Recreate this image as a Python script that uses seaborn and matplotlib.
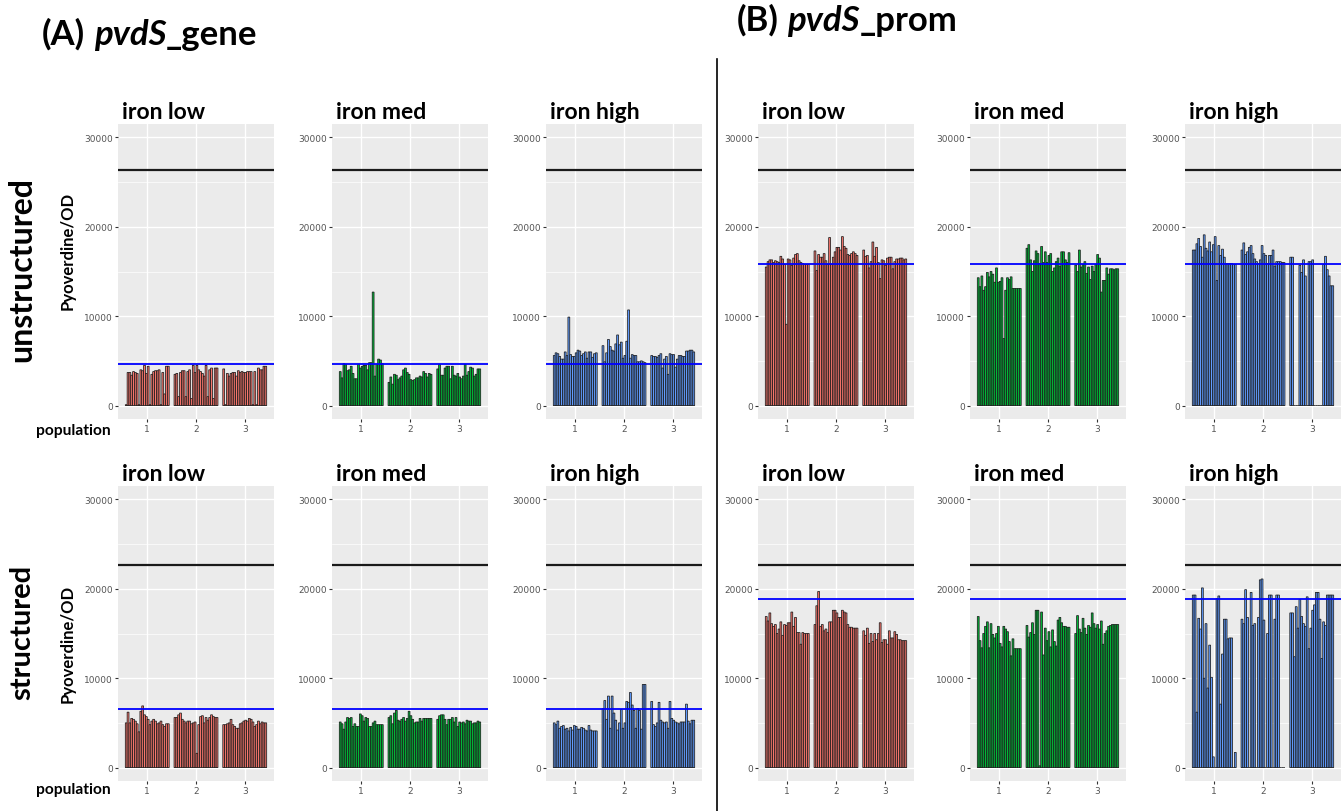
import numpy as np
import pandas as pd
import matplotlib
matplotlib.use("Agg")
import matplotlib.pyplot as plt
import seaborn as sns
from matplotlib.lines import Line2D

# categories
populations = ["1", "2", "3"]
iron_levels = ["iron low", "iron med", "iron high"]
iron_colors = ["#F8766D", "#00BA38", "#619CFF"]

# Pyoverdine/OD per evolved line, in thousands (24 lines per population)
gene_unstr_low = [
    [0.1, 3.7, 3.7, 3.4, 3.8, 3.7, 3.6, 0.1, 4.0, 3.9, 4.5, 3.6, 4.4, 0.1, 3.5, 3.8, 3.9, 3.9, 4.0, 0.1, 3.7, 1.3, 4.4, 4.4],
    [3.5, 3.6, 1.0, 3.7, 3.9, 3.9, 1.0, 3.8, 4.0, 0.8, 4.5, 3.7, 4.5, 4.0, 3.8, 3.6, 3.3, 4.5, 1.0, 4.0, 4.2, 0.8, 4.2, 4.2],
    [4.1, 0.1, 3.6, 3.3, 3.6, 3.7, 3.7, 3.3, 3.9, 3.7, 3.8, 3.7, 3.7, 3.8, 3.8, 3.8, 0.1, 3.8, 0.1, 4.2, 4.0, 4.0, 4.4, 4.4],
]
gene_unstr_med = [
    [3.8, 3.1, 4.7, 4.6, 3.9, 4.0, 4.4, 3.6, 3.0, 3.0, 4.6, 4.2, 4.4, 4.5, 4.5, 4.0, 4.8, 4.8, 12.7, 3.3, 4.6, 5.2, 5.1, 4.7],
    [2.6, 3.2, 2.4, 3.5, 3.4, 2.9, 3.1, 3.3, 4.0, 4.2, 3.7, 3.5, 2.9, 2.8, 2.9, 3.1, 3.1, 3.3, 3.2, 3.8, 3.6, 3.2, 3.6, 3.5],
    [4.1, 4.6, 3.4, 3.4, 4.2, 4.4, 4.4, 3.0, 4.4, 3.4, 3.3, 3.6, 3.2, 3.0, 3.3, 4.6, 3.4, 3.8, 4.3, 4.2, 3.3, 3.5, 4.1, 4.1],
]
gene_unstr_high = [
    [5.6, 5.9, 5.8, 5.5, 5.2, 5.2, 6.0, 5.6, 9.9, 5.7, 5.5, 5.5, 5.9, 6.2, 6.1, 5.6, 5.8, 6.0, 5.3, 6.0, 6.0, 5.4, 5.8, 5.9],
    [6.7, 4.9, 5.9, 7.4, 6.6, 6.2, 6.1, 6.9, 7.9, 6.8, 7.1, 5.3, 5.6, 7.2, 10.7, 5.3, 5.7, 5.6, 5.6, 4.9, 4.9, 5.0, 4.9, 4.8],
    [5.6, 5.5, 5.5, 5.4, 5.6, 5.8, 4.2, 5.2, 5.5, 3.5, 5.8, 5.7, 5.7, 4.3, 5.2, 5.6, 5.6, 5.5, 5.5, 6.1, 6.1, 6.2, 6.2, 6.0],
]
prom_unstr_low = [
    [15.5, 16.1, 16.3, 16.3, 16.0, 16.2, 16.1, 16.0, 16.7, 16.4, 15.8, 9.1, 16.4, 16.3, 15.7, 16.5, 16.9, 17.0, 16.2, 16.0, 15.9, 15.8, 15.8, 15.8],
    [17.3, 15.1, 16.9, 16.6, 16.6, 17.0, 16.2, 15.8, 18.8, 15.8, 16.6, 17.2, 17.7, 17.7, 17.4, 18.9, 17.8, 17.6, 16.9, 16.8, 17.0, 17.2, 17.0, 16.8],
    [17.4, 16.7, 16.8, 15.4, 16.1, 18.3, 16.7, 17.7, 16.0, 14.2, 16.3, 16.2, 15.7, 16.5, 16.6, 16.6, 15.3, 16.1, 16.4, 16.4, 16.5, 16.5, 16.3, 16.4],
]
prom_unstr_med = [
    [14.3, 13.3, 14.5, 12.9, 13.3, 14.9, 14.4, 15.0, 14.7, 13.8, 15.4, 13.8, 13.9, 14.3, 7.5, 12.9, 14.3, 14.1, 14.4, 13.1, 13.1, 13.1, 13.1, 13.1],
    [17.6, 18.0, 16.3, 15.0, 16.2, 17.3, 17.0, 15.9, 17.8, 16.0, 17.2, 16.0, 16.8, 17.0, 15.0, 15.4, 16.1, 16.5, 15.6, 17.2, 17.2, 16.3, 16.0, 17.1],
    [15.7, 15.0, 17.4, 15.5, 15.8, 16.1, 14.8, 15.5, 14.1, 15.6, 15.0, 15.8, 16.9, 16.5, 12.7, 14.0, 14.0, 15.4, 14.7, 15.3, 15.3, 15.2, 15.3, 15.3],
]
prom_unstr_high = [
    [17.4, 17.4, 18.1, 18.7, 17.8, 16.6, 19.1, 17.6, 17.3, 18.3, 17.2, 18.0, 18.9, 14.0, 17.9, 16.8, 17.5, 16.6, 15.9, 15.9, 15.9, 15.9, 15.8, 15.8],
    [17.4, 18.2, 16.9, 17.2, 17.7, 17.9, 17.0, 16.4, 16.1, 15.9, 16.3, 17.9, 17.0, 16.8, 15.9, 16.8, 16.8, 17.4, 15.6, 16.1, 16.1, 16.1, 16.0, 16.0],
    [16.6, 16.6, 0.0, 0.0, 0.0, 15.7, 14.9, 16.3, 14.5, 0.0, 16.1, 16.1, 16.3, 0.0, 0.0, 0.0, 0.0, 0.0, 15.8, 16.7, 15.2, 14.5, 13.4, 13.4],
]
gene_str_low = [
    [5.0, 6.2, 5.0, 5.5, 5.4, 5.2, 4.9, 4.0, 6.3, 6.9, 5.9, 5.7, 5.4, 4.8, 5.2, 5.4, 5.2, 4.9, 5.0, 5.2, 4.8, 4.6, 4.9, 4.9],
    [5.6, 5.6, 5.9, 6.1, 5.4, 5.2, 5.0, 5.2, 5.2, 4.9, 5.0, 5.1, 1.6, 4.8, 5.7, 5.8, 5.0, 5.6, 5.3, 5.6, 5.9, 5.7, 5.6, 5.6],
    [4.8, 4.8, 4.9, 5.0, 5.4, 4.8, 4.6, 4.4, 4.4, 4.9, 5.0, 5.2, 5.3, 5.2, 5.5, 5.4, 5.1, 4.6, 4.8, 5.2, 4.9, 5.1, 5.0, 5.0],
]
gene_str_med = [
    [5.1, 4.9, 4.3, 5.1, 5.6, 5.5, 5.6, 4.6, 4.9, 4.6, 4.6, 6.0, 5.8, 5.2, 5.6, 5.5, 4.6, 4.6, 5.0, 5.2, 4.8, 4.8, 4.8, 4.8],
    [5.6, 5.8, 4.9, 6.1, 6.4, 5.3, 5.2, 5.4, 5.6, 5.2, 5.5, 6.3, 5.8, 5.4, 5.0, 5.1, 5.1, 5.5, 5.2, 5.5, 5.5, 5.5, 5.5, 5.5],
    [5.4, 5.8, 5.9, 5.9, 5.4, 4.8, 5.4, 5.4, 5.6, 5.1, 5.6, 4.6, 5.1, 5.0, 5.1, 4.9, 5.3, 5.2, 5.2, 4.9, 5.0, 5.0, 5.2, 5.1],
]
gene_str_high = [
    [5.0, 4.8, 5.2, 4.4, 4.6, 4.7, 4.3, 4.4, 4.1, 4.5, 4.2, 4.7, 4.6, 4.3, 4.3, 4.5, 4.4, 4.2, 4.1, 4.7, 4.2, 4.1, 4.1, 4.1],
    [6.6, 7.5, 5.4, 8.0, 4.4, 8.0, 6.1, 5.3, 4.2, 5.0, 6.5, 4.4, 5.0, 7.4, 7.3, 8.4, 7.0, 6.4, 4.4, 6.6, 6.4, 4.3, 9.3, 9.3],
    [7.4, 4.8, 4.6, 5.0, 7.3, 5.3, 5.1, 5.0, 5.1, 4.4, 7.4, 5.5, 5.3, 5.1, 5.0, 4.9, 5.1, 5.1, 5.1, 7.1, 5.2, 4.9, 5.3, 5.3],
]
prom_str_low = [
    [16.9, 16.4, 17.3, 16.1, 15.8, 16.0, 15.0, 15.5, 16.3, 14.8, 16.0, 15.9, 16.2, 16.2, 17.4, 15.8, 16.8, 15.1, 15.1, 13.8, 15.1, 15.0, 15.0, 15.0],
    [16.0, 18.1, 19.7, 15.8, 16.0, 15.3, 15.5, 15.1, 16.3, 16.3, 17.6, 17.6, 17.3, 16.8, 16.8, 17.6, 17.4, 17.3, 16.0, 15.7, 15.7, 15.6, 15.6, 15.6],
    [15.3, 14.8, 15.6, 13.9, 15.0, 14.1, 15.0, 14.3, 15.0, 16.2, 14.0, 14.3, 14.3, 13.8, 15.3, 14.5, 14.5, 15.2, 14.9, 14.3, 14.3, 14.2, 14.2, 14.2],
]
prom_str_med = [
    [16.9, 14.2, 13.4, 15.0, 15.8, 16.3, 13.4, 16.1, 14.9, 14.5, 15.0, 15.8, 13.9, 13.5, 15.8, 15.5, 15.2, 14.1, 12.5, 14.4, 13.3, 13.3, 13.3, 13.3],
    [15.9, 14.6, 15.1, 16.2, 14.9, 17.6, 17.6, 0.2, 17.4, 12.6, 15.6, 14.2, 15.2, 13.5, 15.4, 14.1, 13.6, 16.5, 16.8, 16.2, 15.8, 15.8, 15.7, 15.7],
    [15.0, 17.0, 15.5, 15.1, 16.7, 15.6, 14.9, 15.9, 15.7, 17.3, 16.1, 15.6, 16.0, 15.5, 16.4, 13.8, 15.0, 15.3, 15.8, 15.9, 16.0, 16.0, 16.0, 16.0],
]
prom_str_high = [
    [19.3, 19.3, 6.2, 16.7, 15.5, 20.1, 10.0, 16.1, 8.9, 13.7, 10.1, 1.2, 0.0, 18.9, 19.2, 7.1, 12.7, 16.6, 16.6, 14.4, 14.5, 14.5, 0.0, 1.7],
    [16.6, 16.1, 19.9, 16.8, 0.0, 19.6, 15.9, 16.1, 0.0, 16.8, 21.0, 21.1, 16.5, 0.0, 15.0, 19.3, 19.3, 0.0, 16.6, 19.3, 19.3, 0.0, 0.0, 0.0],
    [17.3, 17.3, 12.4, 18.0, 15.6, 18.8, 16.9, 16.1, 15.8, 19.1, 13.3, 15.6, 17.6, 18.2, 19.6, 19.6, 16.6, 12.2, 16.3, 15.9, 19.3, 19.3, 19.3, 19.3],
]

# reference lines (ancestor in black, reference strain in blue)
ancestor_unstr = 26300
ancestor_str = 22700
ref_gene_unstr = 4600
ref_prom_unstr = 15800
ref_gene_str = 6500
ref_prom_str = 18900

plt.rcParams["font.family"] = ["Lato", "DejaVu Sans"]

W, H = 1342, 812
fig = plt.figure(figsize=(W / 100, H / 100), dpi=100)

col_left = [118, 332, 546, 758, 970, 1185]
row_top = [125, 487]
pw, ph = 156, 295

panels = [
    (0, 0, gene_unstr_low, 0, ancestor_unstr, ref_gene_unstr),
    (0, 1, gene_unstr_med, 1, ancestor_unstr, ref_gene_unstr),
    (0, 2, gene_unstr_high, 2, ancestor_unstr, ref_gene_unstr),
    (0, 3, prom_unstr_low, 0, ancestor_unstr, ref_prom_unstr),
    (0, 4, prom_unstr_med, 1, ancestor_unstr, ref_prom_unstr),
    (0, 5, prom_unstr_high, 2, ancestor_unstr, ref_prom_unstr),
    (1, 0, gene_str_low, 0, ancestor_str, ref_gene_str),
    (1, 1, gene_str_med, 1, ancestor_str, ref_gene_str),
    (1, 2, gene_str_high, 2, ancestor_str, ref_gene_str),
    (1, 3, prom_str_low, 0, ancestor_str, ref_prom_str),
    (1, 4, prom_str_med, 1, ancestor_str, ref_prom_str),
    (1, 5, prom_str_high, 2, ancestor_str, ref_prom_str),
]


def draw_panel(ax, values, color, black_y, blue_y):
    rows = []
    for p, vals in zip(populations, values):
        for i, v in enumerate(vals):
            rows.append((p, "line%d" % i, v * 1000))
    df = pd.DataFrame(rows, columns=["population", "line", "pvd"])
    n_lines = df["line"].nunique()
    sns.barplot(data=df, x="population", y="pvd", hue="line",
                palette=[color] * n_lines, dodge=True, width=0.9, gap=0,
                saturation=1, edgecolor="#1a1a1a", linewidth=0.55,
                errorbar=None, legend=False, ax=ax)
    # no pixel snapping, otherwise thin bars turn into gaps
    for p in ax.patches:
        p.set_snap(False)
    ax.axhline(black_y, color="#1a1a1a", lw=1.6, zorder=3)
    ax.axhline(blue_y, color="#0000FF", lw=1.3, zorder=3)
    ax.set_facecolor("#EBEBEB")
    ax.set_ylim(-1500, 31500)
    ax.set_xlim(-0.6, 2.6)
    ax.set_yticks([0, 10000, 20000, 30000])
    ax.set_yticks([5000, 15000, 25000], minor=True)
    ax.set_axisbelow(True)
    ax.grid(which="major", color="white", lw=1.0)
    ax.grid(which="minor", axis="y", color="white", lw=0.5)
    for s in ax.spines.values():
        s.set_visible(False)
    ax.tick_params(which="major", length=2, color="#333333", labelsize=6.5,
                   labelcolor="#555555", pad=1.5)
    ax.tick_params(which="minor", length=0)
    for lab in ax.get_xticklabels() + ax.get_yticklabels():
        lab.set_fontfamily("DejaVu Sans")
    ax.set_xlabel("")
    ax.set_ylabel("")


for r, c, vals, lvl, blk, blu in panels:
    left = col_left[c]
    top = row_top[r]
    ax = fig.add_axes([left / W, 1 - (top + ph) / H, pw / W, ph / H])
    draw_panel(ax, vals, iron_colors[lvl], blk, blu)
    fig.text((left + 4) / W, 1 - (top - 6) / H, iron_levels[lvl],
             fontsize=16.5, fontweight="bold", ha="left", va="baseline")

# row labels
fig.text(22 / W, 1 - 270 / H, "unstructured", rotation=90, fontsize=23,
         fontweight="bold", ha="center", va="center")
fig.text(22 / W, 1 - 632 / H, "structured", rotation=90, fontsize=21,
         fontweight="bold", ha="center", va="center")
for yc in [251, 644]:
    fig.text(68 / W, 1 - yc / H, "Pyoverdine/OD", rotation=90, fontsize=12,
             fontweight="bold", ha="center", va="center")
for yc in [431, 790]:
    fig.text(111 / W, 1 - yc / H, "population", fontsize=11.2,
             fontweight="bold", ha="right", va="center")

# headers with italic gene name
renderer = fig.canvas.get_renderer()


def rich_text(x_px, y_px, parts, size):
    x = x_px
    for s, style in parts:
        t = fig.text(x / W, 1 - y_px / H, s, fontsize=size, fontweight="bold",
                     fontstyle=style, ha="left", va="baseline")
        x += t.get_window_extent(renderer).width


rich_text(42, 45, [("(A)", "normal"), (" ", "normal"), ("pvdS", "italic"), ("_gene", "normal")], 25)
rich_text(737, 31, [("(B)", "normal"), (" ", "normal"), ("pvdS", "italic"), ("_prom", "normal")], 25)

# divider between A and B
fig.add_artist(Line2D([717 / W, 717 / W], [0, 1 - 60 / H], color="black", lw=1.2))

fig.savefig("out.png", dpi=100)
